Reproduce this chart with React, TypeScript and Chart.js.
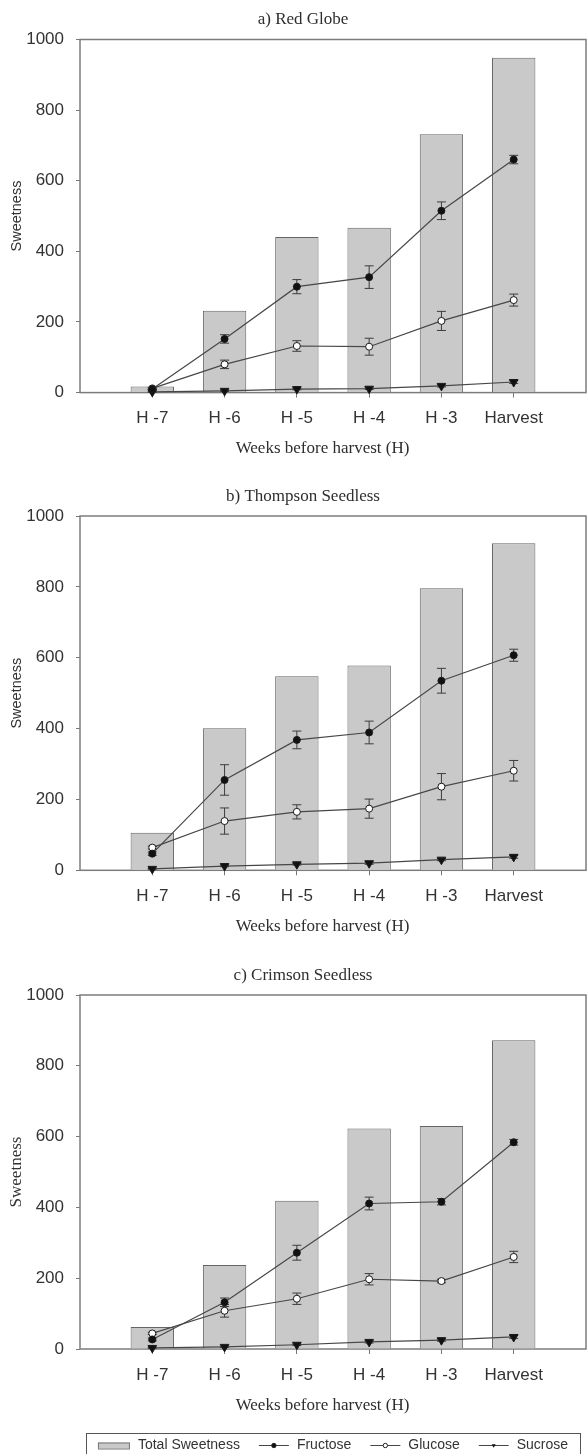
import React, { useEffect, useRef } from 'react';
import { Chart, registerables } from 'chart.js';

Chart.register(...registerables);

// ---------- data ----------
const categories = ['H -7', 'H -6', 'H -5', 'H -4', 'H -3', 'Harvest'];
const yTickValues = [0, 200, 400, 600, 800, 1000];
const legendLabels = ['Total Sweetness', 'Fructose', 'Glucose', 'Sucrose'];

// a) Red Globe
const redGlobeTotal = [17, 232, 441, 467, 732, 948];
const redGlobeFructose = [10, 152, 300, 327, 515, 660];
const redGlobeFructoseErr = [3, 12, 20, 32, 25, 12];
const redGlobeGlucose = [12, 80, 132, 130, 203, 262];
const redGlobeGlucoseErr = [3, 12, 15, 24, 27, 17];
const redGlobeSucrose = [2, 5, 10, 11, 19, 30];
const redGlobeSucroseErr = [1, 2, 2, 2, 3, 4];

// b) Thompson Seedless
const thompsonTotal = [106, 401, 548, 578, 796, 923];
const thompsonFructose = [47, 255, 368, 389, 535, 607];
const thompsonFructoseErr = [5, 43, 25, 32, 35, 17];
const thompsonGlucose = [64, 139, 165, 174, 236, 281];
const thompsonGlucoseErr = [4, 37, 20, 27, 37, 29];
const thompsonSucrose = [4, 12, 17, 20, 30, 38];
const thompsonSucroseErr = [1, 2, 2, 3, 3, 4];

// c) Crimson Seedless
const crimsonTotal = [62, 237, 419, 623, 630, 872];
const crimsonFructose = [27, 132, 272, 411, 416, 584];
const crimsonFructoseErr = [4, 12, 21, 18, 9, 8];
const crimsonGlucose = [44, 108, 142, 197, 192, 260];
const crimsonGlucoseErr = [3, 18, 16, 16, 5, 16];
const crimsonSucrose = [3, 6, 12, 20, 25, 34];
const crimsonSucroseErr = [1, 2, 2, 3, 3, 4];

// ---------- styles ----------
const SANS = '"Liberation Sans", Arial, Helvetica, sans-serif';
const SERIF = '"Liberation Serif", "Times New Roman", serif';
const BAR_FILL = '#c9c9c9';
const BAR_EDGE = '#646464';
const LINE_COLOR = '#474747';
const TEXT_COLOR = '#2e2e2e';

// ---------- plugins ----------
const framePlugin = {
  id: 'panelFrame',
  beforeDatasetsDraw(chart: any) {
    const { ctx, chartArea } = chart;
    ctx.save();
    ctx.strokeStyle = '#7c7c7c';
    ctx.lineWidth = 1.5;
    ctx.strokeRect(chartArea.left, chartArea.top, chartArea.right - chartArea.left, chartArea.bottom - chartArea.top);
    ctx.restore();
  },
};

const errorBarPlugin = {
  id: 'errorBars',
  afterDatasetDraw(chart: any, args: any) {
    if (args.meta.type !== 'bar') return;
    const { ctx } = chart;
    const xs = chart.scales.x;
    const ys = chart.scales.y;
    ctx.save();
    ctx.strokeStyle = '#3c3c3c';
    ctx.lineWidth = 1;
    chart.data.datasets.forEach((ds: any) => {
      if (!ds.errors) return;
      ds.data.forEach((pt: any, i: number) => {
        const e = ds.errors[i];
        if (!e) return;
        const x = xs.getPixelForValue(pt.x);
        const yT = ys.getPixelForValue(pt.y + e);
        const yB = ys.getPixelForValue(Math.max(0, pt.y - e));
        ctx.beginPath();
        ctx.moveTo(x, yT);
        ctx.lineTo(x, yB);
        ctx.moveTo(x - 4.5, yT);
        ctx.lineTo(x + 4.5, yT);
        ctx.moveTo(x - 4.5, yB);
        ctx.lineTo(x + 4.5, yB);
        ctx.stroke();
      });
    });
    ctx.restore();
  },
};

const panelTextPlugin = {
  id: 'panelText',
  afterDraw(chart: any, _args: any, opts: any) {
    const { ctx, chartArea } = chart;
    const cx = (chartArea.left + chartArea.right) / 2;
    ctx.save();
    ctx.fillStyle = TEXT_COLOR;
    ctx.textAlign = 'center';
    ctx.textBaseline = 'middle';
    ctx.font = `17px ${SERIF}`;
    if (opts.title) ctx.fillText(opts.title, cx - 30, chartArea.top - 19.5);
    if (opts.xTitle) ctx.fillText(opts.xTitle, cx - 10.5, chartArea.bottom + 56.3);
    ctx.restore();
  },
};

function drawMarker(ctx: CanvasRenderingContext2D, kind: string, x: number, y: number, r: number) {
  ctx.beginPath();
  if (kind === 'tri') {
    ctx.moveTo(x - r * 0.9, y - r * 0.55);
    ctx.lineTo(x + r * 0.9, y - r * 0.55);
    ctx.lineTo(x, y + r);
    ctx.closePath();
    ctx.fillStyle = '#111';
    ctx.fill();
  } else {
    ctx.arc(x, y, r, 0, Math.PI * 2);
    ctx.fillStyle = kind === 'open' ? '#fff' : '#111';
    ctx.fill();
    ctx.strokeStyle = '#222';
    ctx.lineWidth = 1;
    ctx.stroke();
  }
}

const sharedLegendPlugin = {
  id: 'sharedLegend',
  afterDraw(chart: any, _args: any, opts: any) {
    if (!opts || !opts.display) return;
    const { ctx, chartArea } = chart;
    ctx.save();
    ctx.font = `14px ${SANS}`;
    const items = legendLabels.map((label, i) => ({
      label,
      w: ctx.measureText(label).width,
      sym: i === 0 ? 32 : 30,
    }));
    const pad = 12, symGap = 8, itemGap = 19;
    const total = pad * 2 + items.reduce((s, it) => s + it.sym + symGap + it.w, 0) + itemGap * (items.length - 1);
    const cx = (chartArea.left + chartArea.right) / 2;
    let x = cx - total / 2;
    const boxTop = chartArea.bottom + 84;
    const cy = chartArea.bottom + 96.5;
    ctx.strokeStyle = '#555';
    ctx.lineWidth = 1;
    ctx.strokeRect(Math.round(x) + 0.5, Math.round(boxTop) + 0.5, Math.round(total), 40);
    x += pad;
    const kinds = ['bar', 'filled', 'open', 'tri'];
    items.forEach((it, i) => {
      if (kinds[i] === 'bar') {
        ctx.fillStyle = BAR_FILL;
        ctx.fillRect(x, cy - 3, it.sym, 6);
        ctx.strokeStyle = '#777';
        ctx.strokeRect(x + 0.5, cy - 3 + 0.5, it.sym - 1, 6);
      } else {
        ctx.strokeStyle = LINE_COLOR;
        ctx.lineWidth = 1;
        ctx.beginPath();
        ctx.moveTo(x, cy);
        ctx.lineTo(x + it.sym, cy);
        ctx.stroke();
        drawMarker(ctx, kinds[i], x + it.sym / 2, cy, 2.2);
      }
      ctx.fillStyle = '#333';
      ctx.textAlign = 'left';
      ctx.textBaseline = 'middle';
      ctx.fillText(it.label, x + it.sym + symGap, cy);
      x += it.sym + symGap + it.w + itemGap;
    });
    ctx.restore();
  },
};

// ---------- panel ----------
type PanelProps = {
  title: string;
  total: number[];
  fructose: number[];
  fructoseErr: number[];
  glucose: number[];
  glucoseErr: number[];
  sucrose: number[];
  sucroseErr: number[];
  height: number;
  padTop: number;
  padBottom: number;
  yTitleFont: any;
  yTitlePad: number;
  legend?: boolean;
};

const toXY = (arr: number[]) => arr.map((v, i) => ({ x: i, y: v }));

function Panel(p: PanelProps) {
  const ref = useRef<HTMLCanvasElement | null>(null);
  useEffect(() => {
    if (!ref.current) return;
    const lineBase = {
      type: 'line' as const,
      borderColor: LINE_COLOR,
      borderWidth: 1.2,
      tension: 0,
      fill: false,
      clip: false as any,
      order: 1,
      pointBorderColor: '#1a1a1a',
      pointBorderWidth: 1,
    };
    const chart = new Chart(ref.current, {
      type: 'bar',
      data: {
        datasets: [
          {
            type: 'bar',
            label: legendLabels[0],
            data: toXY(p.total) as any,
            backgroundColor: BAR_FILL,
            borderColor: BAR_EDGE,
            borderWidth: 1,
            barPercentage: 0.75,
            categoryPercentage: 0.8,
            order: 3,
          },
          {
            ...lineBase,
            label: legendLabels[1],
            data: toXY(p.fructose) as any,
            errors: p.fructoseErr,
            pointStyle: 'circle',
            pointRadius: 3.5,
            pointBackgroundColor: '#111',
          } as any,
          {
            ...lineBase,
            label: legendLabels[2],
            data: toXY(p.glucose) as any,
            errors: p.glucoseErr,
            pointStyle: 'circle',
            pointRadius: 3.5,
            pointBackgroundColor: '#ffffff',
          } as any,
          {
            ...lineBase,
            label: legendLabels[3],
            data: toXY(p.sucrose) as any,
            errors: p.sucroseErr,
            pointStyle: 'triangle',
            pointRotation: 180,
            pointRadius: 5,
            pointBackgroundColor: '#111',
          } as any,
        ],
      },
      options: {
        animation: false,
        responsive: false,
        devicePixelRatio: 1,
        layout: { autoPadding: false, padding: { top: p.padTop, bottom: p.padBottom, left: 0, right: 1 } },
        plugins: {
          legend: { display: false },
          tooltip: { enabled: false },
          title: { display: false },
          panelText: { title: p.title, xTitle: 'Weeks before harvest (H)' },
          sharedLegend: { display: !!p.legend },
        } as any,
        scales: {
          x: {
            type: 'linear',
            min: -1,
            max: 6,
            offset: false,
            afterBuildTicks: (scale: any) => {
              scale.ticks = categories.map((_, i) => ({ value: i }));
            },
            afterFit: (scale: any) => {
              scale.height = 40;
            },
            ticks: {
              autoSkip: false,
              maxRotation: 0,
              padding: 11,
              color: '#333',
              font: { family: SANS, size: 17 },
              callback: (v: any) => categories[v as number] ?? '',
            },
            grid: { offset: false, drawOnChartArea: false, drawTicks: true, tickLength: 5, color: '#777' },
            border: { display: false },
          },
          y: {
            type: 'linear',
            min: 0,
            max: 1000,
            afterBuildTicks: (scale: any) => {
              scale.ticks = yTickValues.map((v) => ({ value: v }));
            },
            afterFit: (scale: any) => {
              scale.width = 80;
            },
            ticks: {
              padding: 12,
              color: '#333',
              font: { family: SANS, size: 17 },
              callback: (v: any) => String(v),
            },
            grid: { drawOnChartArea: false, drawTicks: true, tickLength: 4, color: '#777' },
            border: { display: false },
            title: {
              display: true,
              text: 'Sweetness',
              color: '#333',
              font: p.yTitleFont,
              padding: { top: p.yTitlePad, bottom: 0 },
            },
          },
        },
      },
      plugins: [framePlugin, errorBarPlugin, panelTextPlugin, sharedLegendPlugin],
    });
    return () => chart.destroy();
  }, []);
  return (
    <div style={{ width: 587, height: p.height, position: 'relative' }}>
      <canvas ref={ref} width={587} height={p.height} style={{ display: 'block', width: 587, height: p.height }} />
    </div>
  );
}

export default function App() {
  const sansTitle = { family: SANS, size: 14.5 };
  const serifTitle = { family: SERIF, size: 17 };
  return (
    <div style={{ position: 'absolute', left: 0, top: 0, width: 587, background: '#fff' }}>
      <Panel
        title="a) Red Globe"
        total={redGlobeTotal}
        fructose={redGlobeFructose}
        fructoseErr={redGlobeFructoseErr}
        glucose={redGlobeGlucose}
        glucoseErr={redGlobeGlucoseErr}
        sucrose={redGlobeSucrose}
        sucroseErr={redGlobeSucroseErr}
        height={476}
        padTop={39.5}
        padBottom={43.4}
        yTitleFont={sansTitle}
        yTitlePad={8}
      />
      <Panel
        title="b) Thompson Seedless"
        total={thompsonTotal}
        fructose={thompsonFructose}
        fructoseErr={thompsonFructoseErr}
        glucose={thompsonGlucose}
        glucoseErr={thompsonGlucoseErr}
        sucrose={thompsonSucrose}
        sucroseErr={thompsonSucroseErr}
        height={480}
        padTop={40}
        padBottom={45.7}
        yTitleFont={sansTitle}
        yTitlePad={8}
      />
      <Panel
        title="c) Crimson Seedless"
        total={crimsonTotal}
        fructose={crimsonFructose}
        fructoseErr={crimsonFructoseErr}
        glucose={crimsonGlucose}
        glucoseErr={crimsonGlucoseErr}
        sucrose={crimsonSucrose}
        sucroseErr={crimsonSucroseErr}
        height={498}
        padTop={39}
        padBottom={65}
        yTitleFont={serifTitle}
        yTitlePad={6}
        legend
      />
    </div>
  );
}
